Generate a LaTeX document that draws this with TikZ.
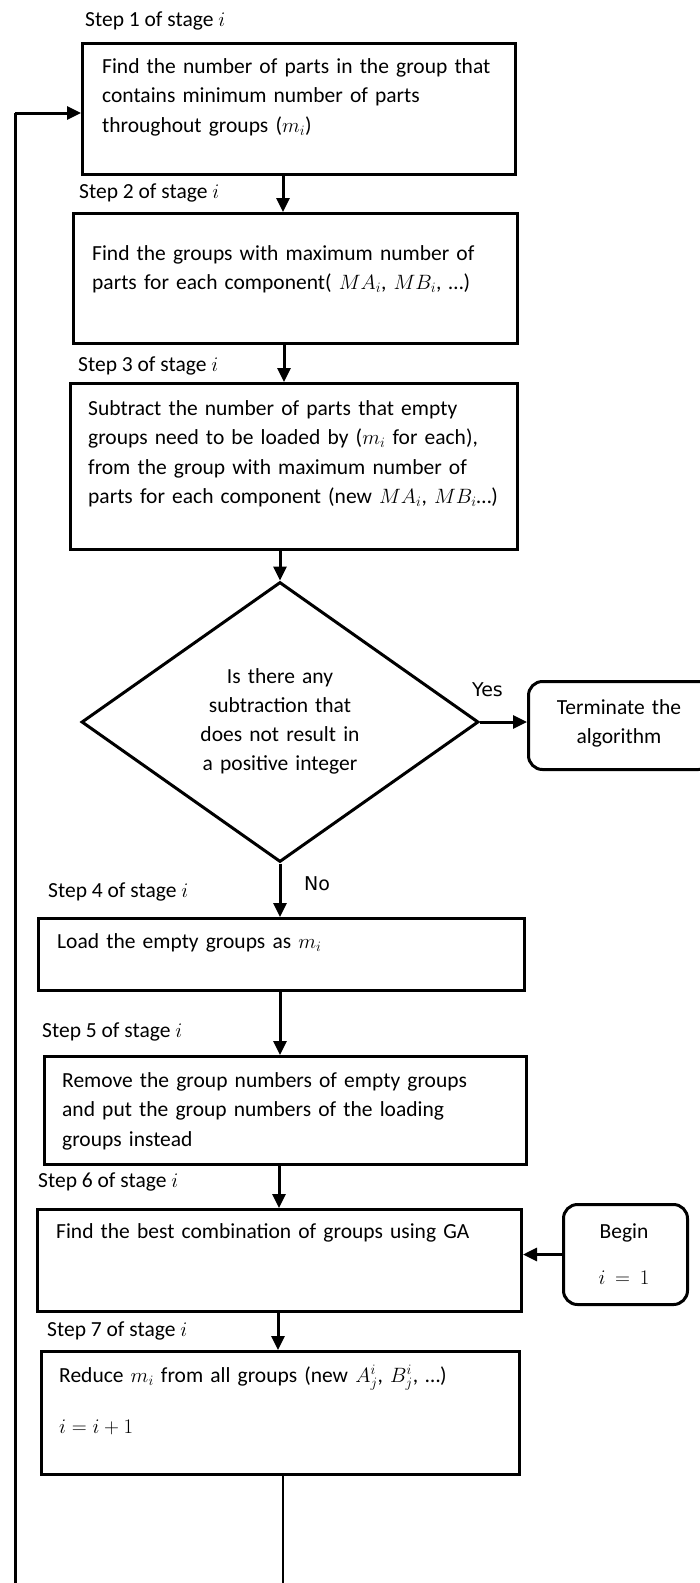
\documentclass[tikz,border=0pt]{standalone}
\usepackage{fontspec}
\setmainfont{Carlito}
\newfontfamily\yesfont{DejaVu Sans}
\usetikzlibrary{arrows.meta,shapes.geometric}
\tikzset{
  box/.style={draw, line width=3pt, inner sep=0pt, anchor=north west},
  rbox/.style={box, rounded corners=14pt},
  txt/.style={inner sep=0pt, anchor=base west, text width=470pt, align=left,
              font=\fontsize{21.5}{29.5}\selectfont},
  lbl/.style={inner sep=0pt, anchor=base west, font=\fontsize{21.5}{26}\selectfont},
  ctxt/.style={inner sep=0pt, anchor=base, text width=220pt, align=center,
              font=\fontsize{21.5}{29}\selectfont},
  yn/.style={inner sep=0pt, anchor=base west, font=\yesfont\fontsize{19}{22}\selectfont},
  arr/.style={line width=3pt, -{Triangle[length=14pt,width=13pt]}},
  ln/.style={line width=3pt},
  thinln/.style={line width=1.6pt},
}
\begin{document}
\begin{tikzpicture}[x=1pt,y=-1pt]
\useasboundingbox (0,0) rectangle (700,1583);
\clip (0,0) rectangle (700,1583);

% boxes
\node[box, minimum width=433pt, minimum height=131pt] (s1) at (81,42) {};
\node[box, minimum width=444pt, minimum height=130pt] (s2) at (72,212) {};
\node[box, minimum width=447pt, minimum height=166pt] (s3) at (69,382) {};
\node[diamond, draw, line width=3pt, inner sep=0pt, minimum width=397pt, minimum height=280pt] (d) at (280,722) {};
\node[rbox, minimum width=184pt, minimum height=88pt] (term) at (527,680) {};
\node[box, minimum width=486pt, minimum height=72pt] (s4) at (37,917) {};
\node[box, minimum width=482pt, minimum height=108pt] (s5) at (43,1055) {};
\node[box, minimum width=484pt, minimum height=102pt] (s6) at (36,1208) {};
\node[rbox, minimum width=124pt, minimum height=100pt] (begin) at (562,1203) {};
\node[box, minimum width=478pt, minimum height=123pt] (s7) at (40,1350) {};

% step labels
\node[lbl] (l1) at (85,26) {Step 1 of stage $i$};
\node[lbl] (l2) at (79,198) {Step 2 of stage $i$};
\node[lbl] (l3) at (78,371) {Step 3 of stage $i$};
\node[lbl] (l4) at (48,897) {Step 4 of stage $i$};
\node[lbl] (l5) at (42,1037) {Step 5 of stage $i$};
\node[lbl] (l6) at (38,1187) {Step 6 of stage $i$};
\node[lbl] (l7) at (47,1336) {Step 7 of stage $i$};

% box texts
\node[txt] (t1) at (102,73) {Find the number of parts in the group that\\contains minimum number of parts\\throughout groups ($m_i$)};
\node[txt] (t2) at (92,260) {Find the groups with maximum number of\\parts for each component( $MA_i$, $MB_i$, \dots)};
\node[txt] (t3) at (88,415) {Subtract the number of parts that empty\\groups need to be loaded by ($m_i$ for each),\\from the group with maximum number of\\parts for each component (new $MA_i$, $MB_i$\dots)};
\node[ctxt] (td) at (280,683) {Is there any\\subtraction that\\does not result in\\a positive integer};
\node[ctxt, text width=170pt] (tt) at (619,714) {Terminate the\\algorithm};
\node[txt] (t4) at (57,948) {Load the empty groups as $m_i$};
\node[txt] (t5) at (62,1087) {Remove the group numbers of empty groups\\and put the group numbers of the loading\\groups instead};
\node[txt] (t6) at (56,1238) {Find the best combination of groups using GA};
\node[ctxt, text width=110pt] (tb) at (624,1238) {Begin\\[17pt]$i=1$};
\node[txt] (t7) at (59,1382) {Reduce $m_i$ from all groups (new $A_j^i$, $B_j^i$, \dots)\\[21.5pt]$i=i+1$};

% yes / no
\node[yn] (yes) at (472,696) {Yes};
\node[yn] (no) at (304,890) {No};

% connectors
\coordinate (c1) at (283,0);
\coordinate (c2) at (284,0);
\coordinate (c3) at (280,0);
\coordinate (c4) at (280,0);
\coordinate (c5) at (279,0);
\coordinate (c6) at (278,0);
\draw[arr] (s1.south -| c1) -- (s2.north -| c1);
\draw[arr] (s2.south -| c2) -- (s3.north -| c2);
\draw[arr] (s3.south -| c3) -- (d.north);
\draw[arr] (d.east) -- (term.west |- d.east);
\draw[arr] (d.south) -- (s4.north -| d.south);
\draw[arr] (s4.south -| c4) -- (s5.north -| c4);
\draw[arr] (s5.south -| c5) -- (s6.north -| c5);
\draw[arr] (begin.west) -- (begin.west -| s6.east);
\draw[arr] (s6.south -| c6) -- (s7.north -| c6);

% loop back
\coordinate (b1) at (283,1600);
\coordinate (b2) at (15,1600);
\coordinate (lp) at (15,113);
\draw[thinln] (s7.south -| b1) -- (b1) -- (b2);
\draw[ln] (b2) -- (lp);
\draw[arr] (lp) -- (lp -| s1.west);
\end{tikzpicture}
\end{document}
